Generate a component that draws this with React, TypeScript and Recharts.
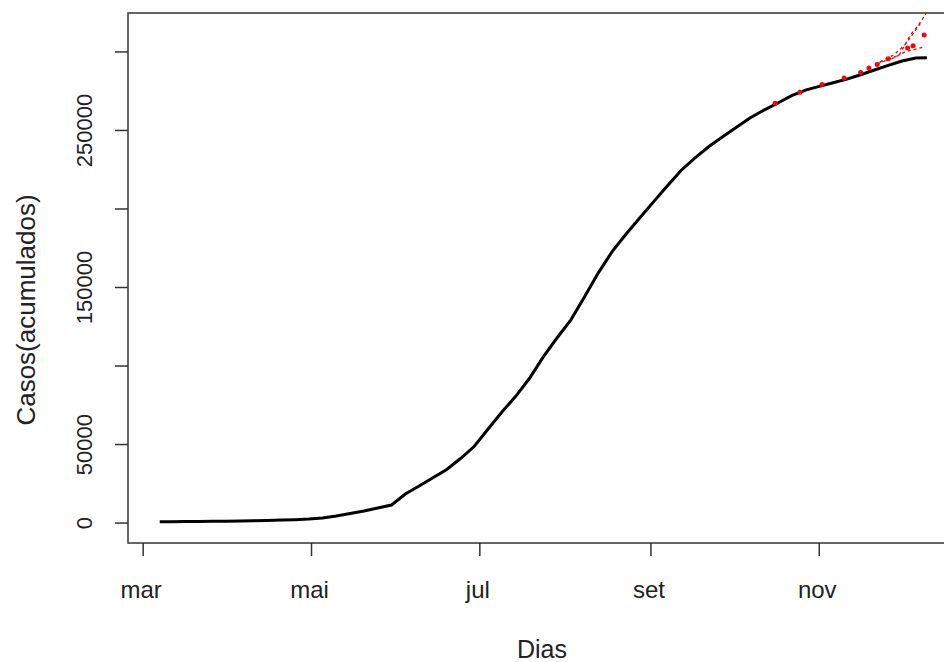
import React from "react";
import {
  ComposedChart,
  Line,
  Scatter,
  XAxis,
  YAxis,
  ReferenceArea,
} from "recharts";

// dias contados a partir de 1 de março
const dias = [
  6, 10, 15, 20, 25, 30, 35, 40, 45, 50, 55, 60, 65, 70, 75, 80, 85, 90, 95,
  100, 105, 110, 115, 120, 125, 130, 135, 140, 145, 150, 155, 160, 165, 170,
  175, 180, 185, 190, 195, 200, 205, 210, 215, 220, 225, 230, 235, 240, 245,
  250, 255, 260, 265, 270, 275, 280, 284,
];
const casos = [
  900, 900, 950, 1000, 1100, 1150, 1270, 1530, 1650, 1900, 2150, 2550, 3200,
  4450, 6050, 7650, 9550, 11500, 18500, 23600, 28900, 34100, 41100, 48900,
  59900, 70700, 80700, 92200, 105800, 118000, 129400, 144200, 159500, 173000,
  184100, 194400, 204700, 214800, 224700, 232600, 239800, 246000, 252000,
  258100, 263000, 267500, 272200, 275700, 278100, 280400, 282700, 285500,
  288500, 291400, 294200, 296200, 296300,
];

// valores previstos (pontos vermelhos)
const diasPrev = [229, 238, 246, 254, 260, 263, 266, 270, 277, 279, 283];
const casosPrev = [
  267400, 274300, 279200, 283400, 286900, 289700, 292000, 295600, 302500,
  304000, 310800,
];

// projeções (linhas tracejadas)
const diasProjA = [266, 274, 278, 281, 284];
const casosProjA = [292300, 298100, 310800, 317200, 325500];
const diasProjB = [267, 272, 276, 280, 282];
const casosProjB = [293600, 298100, 304400, 314000, 319100];
const diasProjC = [267, 272, 276, 279, 283];
const casosProjC = [293600, 296200, 300000, 301300, 303200];

const mesesTicks = [0, 61, 122, 184, 245];
const mesesNomes = ["mar", "mai", "jul", "set", "nov"];
const yTicks = [0, 50000, 100000, 150000, 200000, 250000, 300000];
const yRotulos = ["0", "50000", "", "150000", "", "250000", ""];

const xDomain = [-5.5, 296];
const yDomain = [-12700, 324800];

const toRows = (xs: number[], ys: number[]) =>
  xs.map((d, i) => ({ dia: d, casos: ys[i] }));

const serie = toRows(dias, casos);
const prev = toRows(diasPrev, casosPrev);
const projA = toRows(diasProjA, casosProjA);
const projB = toRows(diasProjB, casosProjB);
const projC = toRows(diasProjC, casosProjC);

const font = "'Liberation Sans', Arial, sans-serif";
const ink = "#222";

const XTick = (props: any) => {
  const { x, y, payload } = props;
  const i = mesesTicks.indexOf(payload.value);
  return (
    <text x={x - 2} y={y} dy={40} textAnchor="middle" fontSize={24} fontFamily={font} fill={ink}>
      {mesesNomes[i]}
    </text>
  );
};

const YTick = (props: any) => {
  const { x, y, payload } = props;
  const i = yTicks.indexOf(payload.value);
  const cx = x - 28;
  return (
    <text
      x={cx}
      y={y}
      transform={`rotate(-90, ${cx}, ${y})`}
      textAnchor="middle"
      dominantBaseline="central"
      fontSize={22}
      fontFamily={font}
      fill={ink}
    >
      {yRotulos[i]}
    </text>
  );
};

export default function App() {
  return (
    <div
      style={{
        position: "fixed",
        left: 0,
        top: 0,
        width: 944,
        height: 662,
        overflow: "hidden",
        background: "#fff",
      }}
    >
      <ComposedChart
        width={960}
        height={662}
        margin={{ top: 13, right: 0, bottom: 0, left: 0 }}
      >
        <XAxis
          type="number"
          dataKey="dia"
          domain={xDomain}
          ticks={mesesTicks}
          allowDataOverflow
          height={119}
          tickSize={13}
          axisLine={false}
          tickLine={{ stroke: "#333", strokeWidth: 1.5 }}
          tick={<XTick />}
          label={{
            content: (p: any) => {
              const vb = p.viewBox;
              return (
                <text
                  x={vb.x + vb.width / 2 - 2}
                  y={658}
                  textAnchor="middle"
                  fontSize={25}
                  fontFamily={font}
                  fill={ink}
                >
                  Dias
                </text>
              );
            },
          }}
        />
        <YAxis
          type="number"
          dataKey="casos"
          domain={yDomain}
          ticks={yTicks}
          allowDataOverflow
          width={128}
          tickSize={13}
          axisLine={false}
          tickLine={{ stroke: "#333", strokeWidth: 1.5 }}
          tick={<YTick />}
          label={{
            content: (p: any) => {
              const vb = p.viewBox;
              const cx = 26;
              const cy = vb.y + vb.height / 2 + 32;
              return (
                <text
                  x={cx}
                  y={cy}
                  transform={`rotate(-90, ${cx}, ${cy})`}
                  textAnchor="middle"
                  dominantBaseline="central"
                  fontSize={26}
                  fontFamily={font}
                  fill={ink}
                >
                  Casos(acumulados)
                </text>
              );
            },
          }}
        />
        <ReferenceArea
          x1={xDomain[0]}
          x2={xDomain[1]}
          y1={yDomain[0]}
          y2={yDomain[1]}
          fill="none"
          stroke="#333"
          strokeWidth={1.5}
          ifOverflow="visible"
        />
        <Line
          data={projA}
          dataKey="casos"
          type="linear"
          stroke="#ff0000"
          strokeWidth={1.3}
          strokeDasharray="3 3"
          dot={false}
          isAnimationActive={false}
        />
        <Line
          data={projB}
          dataKey="casos"
          type="linear"
          stroke="#ff0000"
          strokeWidth={1.3}
          strokeDasharray="3 3"
          dot={false}
          isAnimationActive={false}
        />
        <Line
          data={projC}
          dataKey="casos"
          type="linear"
          stroke="#ff0000"
          strokeWidth={1.3}
          strokeDasharray="3 3"
          dot={false}
          isAnimationActive={false}
        />
        <Scatter
          data={prev}
          dataKey="casos"
          fill="#ff0000"
          shape={(p: any) => <circle cx={p.cx} cy={p.cy} r={2.5} fill="#ff0000" />}
          isAnimationActive={false}
        />
        <Line
          data={serie}
          dataKey="casos"
          type="linear"
          stroke="#000"
          strokeWidth={3}
          dot={false}
          isAnimationActive={false}
        />
      </ComposedChart>
    </div>
  );
}
